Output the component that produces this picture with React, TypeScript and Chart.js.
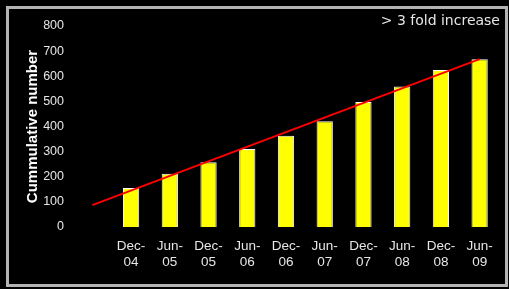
import React, { useEffect, useRef } from "react";
import { Chart, registerables } from "chart.js";

Chart.register(...registerables);

const categories = ["", "Dec-04", "Jun-05", "Dec-05", "Jun-06", "Dec-06", "Jun-07", "Dec-07", "Jun-08", "Dec-08", "Jun-09"];
const cumulative = [null, 155, 212, 258, 310, 363, 421, 498, 559, 625, 668];
const trend = [87, null, null, null, null, null, null, null, null, null, 668];
const yTicks = [0, 100, 200, 300, 400, 500, 600, 700, 800];
const yTitle = "Cummulative number";
const note = "> 3 fold increase";

export default function App() {
  const ref = useRef<HTMLCanvasElement>(null);

  useEffect(() => {
    const labels = categories.map((c) => {
      if (!c) return "";
      const i = c.indexOf("-");
      return [c.slice(0, i + 1), c.slice(i + 1)];
    });
    const chart = new Chart(ref.current!, {
      type: "bar",
      data: {
        labels,
        datasets: [
          {
            type: "line",
            data: trend,
            borderColor: "#ff0000",
            borderWidth: 2,
            pointRadius: 0,
            spanGaps: true,
            order: 0,
          } as any,
          {
            type: "bar",
            data: cumulative,
            backgroundColor: "#ffff00",
            borderColor: "#ffffff",
            borderWidth: 1,
            barPercentage: 0.42,
            categoryPercentage: 1,
            order: 1,
          },
        ],
      },
      options: {
        animation: false,
        responsive: false,
        maintainAspectRatio: false,
        layout: { padding: { left: 19, right: 10, top: 26, bottom: 20 } },
        plugins: { legend: { display: false }, tooltip: { enabled: false } },
        scales: {
          x: {
            offset: true,
            grid: { display: false, drawTicks: false },
            border: { display: false },
            ticks: {
              color: "#e6e6e6",
              font: { family: "'Liberation Sans', Arial, sans-serif", size: 13.5, lineHeight: 1.14 },
              padding: 12,
              maxRotation: 0,
              autoSkip: false,
            },
            afterFit: (s: any) => {
              s.height = 42;
            },
          },
          y: {
            min: 0,
            max: 800,
            grid: { display: false, drawTicks: false },
            border: { display: false },
            afterBuildTicks: (s: any) => {
              s.ticks = yTicks.map((v) => ({ value: v }));
            },
            ticks: {
              color: "#e6e6e6",
              font: { family: "'Liberation Sans', Arial, sans-serif", size: 12.5 },
              padding: 9,
            },
            title: {
              display: true,
              text: yTitle,
              color: "#ffffff",
              font: { family: "'Liberation Sans', Arial, sans-serif", size: 15, weight: "bold" },
              padding: { top: 5, bottom: 0 },
            },
            afterFit: (s: any) => {
              s.width = 73 - 19;
            },
          },
        },
      },
    });
    return () => chart.destroy();
  }, []);

  return (
    <div style={{ position: "fixed", left: 0, top: 0, width: 509, height: 289, background: "#000", overflow: "hidden" }}>
      <canvas ref={ref} width={509} height={289} style={{ position: "absolute", left: 0, top: 0, width: 509, height: 289 }} />
      <div
        style={{
          position: "absolute",
          left: 6,
          top: 6,
          width: 496,
          height: 275,
          border: "3px solid #b4b4b4",
          pointerEvents: "none",
        }}
      />
      <div
        style={{
          position: "absolute",
          right: 9,
          top: 12,
          height: 16,
          lineHeight: "16px",
          fontFamily: "'DejaVu Sans', Verdana, sans-serif",
          fontSize: 14,
          color: "#e6e6e6",
          whiteSpace: "nowrap",
        }}
      >
        {note}
      </div>
    </div>
  );
}
